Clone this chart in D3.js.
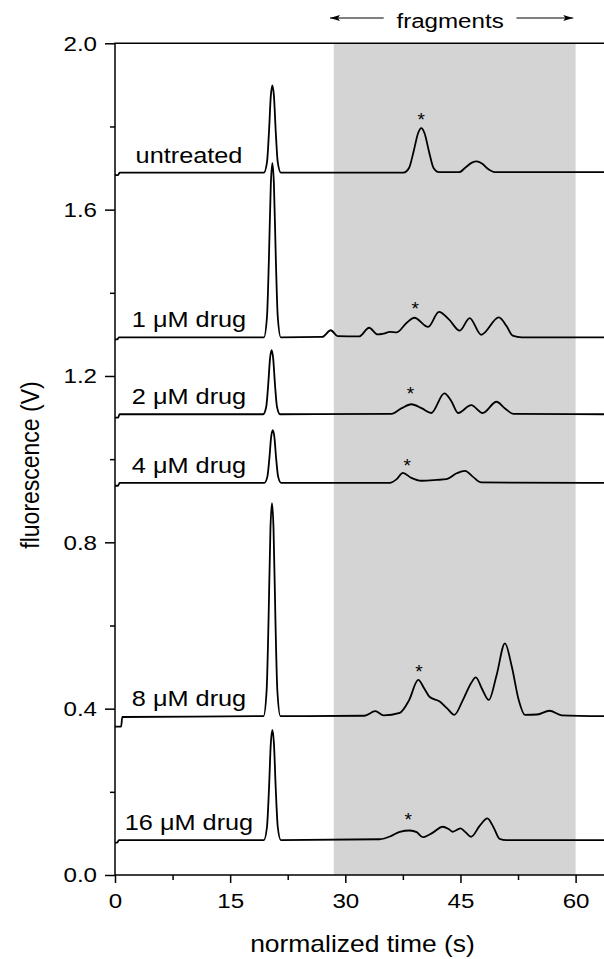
<!DOCTYPE html>
<html>
<head>
<meta charset="utf-8">
<script src="https://cdn.jsdelivr.net/npm/d3@7"></script>
<style>
  html, body { margin: 0; padding: 0; background: #fff; }
  svg { display: block; }
  text { font-family: "Liberation Sans", Arial, sans-serif; fill: #000; }
</style>
</head>
<body>
<div id="chart"></div>
<script>
/* electropherogram traces - fluorescence vs normalized time */

// axis ticks
const Y_MAJOR = [0, 0.4, 0.8, 1.2, 1.6, 2.0];
const Y_MINOR = [0.2, 0.6, 1.0, 1.4, 1.8];
const X_MAJOR = [0, 15, 30, 45, 60];
const X_MINOR = [7.5, 22.5, 37.5, 52.5];

// shaded "fragments" window (s)
const FRAGMENT_WINDOW = [28.5, 60];
const ARROW_SPANS = [[35.0, 28.0], [52.3, 59.7]];

const LABELS = ["untreated", "1 \u03BCM drug", "2 \u03BCM drug", "4 \u03BCM drug", "8 \u03BCM drug", "16 \u03BCM drug"];

// [time, volts]
const untreated = [
  [0, 1.683], [0.4, 1.683], [0.6, 1.689], [19.4, 1.689], [19.8, 1.714], [20.05, 1.784], [20.3, 1.874],
  [20.5, 1.899], [20.7, 1.874], [20.95, 1.784], [21.2, 1.714], [21.6, 1.689],
  [37.6, 1.689], [38.3, 1.700], [38.9, 1.740], [39.5, 1.785], [39.9, 1.796], [40.3, 1.785], [40.9, 1.740],
  [41.5, 1.700], [42.2, 1.690], [44.8, 1.690], [45.7, 1.702], [46.5, 1.713], [47.1, 1.716], [47.8, 1.711],
  [48.6, 1.698], [49.6, 1.690], [63.7, 1.690]
];
const drug1 = [
  [0, 1.288], [0.3, 1.288], [0.5, 1.293], [19.4, 1.293], [19.8, 1.343], [20.05, 1.482], [20.3, 1.662],
  [20.5, 1.712], [20.7, 1.662], [20.95, 1.482], [21.2, 1.343], [21.6, 1.293],
  [27.0, 1.294], [28.1, 1.310], [29.0, 1.296], [31.8, 1.295], [33.1, 1.316], [34.2, 1.300], [35.0, 1.302],
  [35.8, 1.306], [36.7, 1.305], [38.0, 1.328], [39.0, 1.340], [40.8, 1.318], [42.2, 1.354], [43.5, 1.336],
  [44.9, 1.309], [46.2, 1.339], [47.7, 1.299], [50.0, 1.341], [51.0, 1.320], [51.8, 1.297], [53.0, 1.293],
  [63.7, 1.293]
];
const drug2 = [
  [0, 1.100], [0.4, 1.100], [0.6, 1.108], [19.3, 1.108], [19.7, 1.126], [19.95, 1.177], [20.2, 1.243],
  [20.4, 1.262], [20.6, 1.243], [20.85, 1.177], [21.1, 1.126], [21.5, 1.108],
  [36.0, 1.109], [37.3, 1.122], [38.6, 1.132], [40.0, 1.122], [41.2, 1.111], [42.9, 1.158], [43.8, 1.140],
  [44.7, 1.111], [46.4, 1.130], [47.9, 1.111], [49.7, 1.138], [50.8, 1.122], [51.9, 1.109], [63.7, 1.108]
];
const drug4 = [
  [0, 0.936], [0.4, 0.936], [0.6, 0.943], [19.45, 0.943], [19.85, 0.958], [20.1, 1.000], [20.35, 1.055],
  [20.55, 1.070], [20.75, 1.055], [21.0, 1.000], [21.25, 0.958], [21.65, 0.943],
  [35.8, 0.943], [36.7, 0.952], [37.5, 0.967], [38.6, 0.955], [39.9, 0.948], [41.9, 0.950], [43.2, 0.952],
  [44.5, 0.966], [45.6, 0.972], [46.6, 0.958], [47.7, 0.944], [63.7, 0.943]
];
const drug8 = [
  [0, 0.357], [0.8, 0.357], [0.95, 0.380], [19.35, 0.382], [19.75, 0.443], [20.0, 0.612], [20.25, 0.833],
  [20.45, 0.894], [20.65, 0.833], [20.9, 0.612], [21.15, 0.443], [21.55, 0.382],
  [32.5, 0.383], [33.9, 0.394], [35.0, 0.384], [37.1, 0.390], [38.3, 0.420], [39.5, 0.469], [40.3, 0.448],
  [41.0, 0.428], [42.3, 0.417], [43.3, 0.400], [44.2, 0.385], [45.3, 0.420], [46.4, 0.462], [47.0, 0.475],
  [47.8, 0.448], [48.7, 0.421], [49.7, 0.480], [50.8, 0.557], [51.7, 0.500], [52.6, 0.420], [53.4, 0.385],
  [55.0, 0.386], [56.6, 0.395], [58.2, 0.384], [63.7, 0.382]
];
const drug16 = [
  [0, 0.078], [0.3, 0.078], [0.5, 0.084], [19.4, 0.084], [19.8, 0.116], [20.05, 0.203], [20.3, 0.317],
  [20.5, 0.349], [20.7, 0.317], [20.95, 0.203], [21.2, 0.116], [21.6, 0.084],
  [34.5, 0.086], [36.0, 0.094], [37.1, 0.104], [38.4, 0.107], [39.3, 0.103], [40.1, 0.091], [41.4, 0.102],
  [42.7, 0.116], [43.5, 0.110], [44.0, 0.104], [45.0, 0.112], [45.7, 0.102], [46.4, 0.092], [47.5, 0.118],
  [48.5, 0.136], [49.3, 0.115], [50.1, 0.087], [51.0, 0.084], [63.7, 0.084]
];
const TRACES = [untreated, drug1, drug2, drug4, drug8, drug16];

// asterisk marks on the reference fragment
const STARS = [[39.9, 1.827], [39.1, 1.372], [38.5, 1.168], [38.05, 0.996], [39.6, 0.501], [38.2, 0.144]];

const W = 604, H = 959;
const SX = 1.15; // picture's text is stretched horizontally

const x = d3.scaleLinear().domain([0, 63.7]).range([115, 604]);
const y = d3.scaleLinear().domain([0, 2]).range([875, 43.3]);

const svg = d3.select("#chart").append("svg").attr("width", W).attr("height", H);

// shaded window
svg.append("rect")
  .attr("x", x(FRAGMENT_WINDOW[0]))
  .attr("y", y(2))
  .attr("width", x(FRAGMENT_WINDOW[1]) - x(FRAGMENT_WINDOW[0]))
  .attr("height", y(0) - y(2))
  .attr("fill", "#d4d4d4");

// traces
const line = d3.line().x(d => x(d[0])).y(d => y(d[1])).curve(d3.curveMonotoneX);
svg.selectAll(".trace").data(TRACES).join("path")
  .attr("class", "trace")
  .attr("d", line)
  .attr("fill", "none")
  .attr("stroke", "#000")
  .attr("stroke-width", 1.8)
  .attr("stroke-linejoin", "round");

// trace labels, centred left of the main peak
svg.selectAll(".lab").data(LABELS).join("text")
  .attr("class", "lab")
  .attr("text-anchor", "middle")
  .attr("font-size", 22)
  .attr("transform", (d, i) => `translate(189,${y(TRACES[i][3][1]) - 10}) scale(${SX},1)`)
  .text(d => d);

svg.selectAll(".star").data(STARS).join("text")
  .attr("class", "star")
  .attr("text-anchor", "middle")
  .attr("font-size", 19)
  .attr("x", d => x(d[0]))
  .attr("y", d => y(d[1]) + 11)
  .text("*");

// axes
function styleAxis(g) {
  g.select(".domain").remove();
  g.selectAll("line").attr("stroke", "#000").attr("stroke-width", 1.5);
  g.selectAll("text")
    .attr("font-size", 21)
    .attr("font-family", "Liberation Sans, Arial, sans-serif");
}

const yAxis = svg.append("g").attr("transform", `translate(${x(0)},0)`)
  .call(d3.axisLeft(y).tickValues(Y_MAJOR).tickFormat(d3.format(".1f")).tickSize(10).tickPadding(8))
  .call(styleAxis);
yAxis.selectAll("text").attr("transform", `scale(${SX},1)`).attr("x", -18 / SX);
svg.append("g").attr("transform", `translate(${x(0)},0)`)
  .call(d3.axisLeft(y).tickValues(Y_MINOR).tickFormat("").tickSize(5))
  .call(styleAxis);

const xAxis = svg.append("g").attr("transform", `translate(0,${y(0)})`)
  .call(d3.axisBottom(x).tickValues(X_MAJOR).tickFormat(d3.format("d")).tickSize(8).tickPadding(10))
  .call(styleAxis);
xAxis.selectAll("text").attr("transform", `scale(${SX},1)`).attr("x", 0);
svg.append("g").attr("transform", `translate(0,${y(0)})`)
  .call(d3.axisBottom(x).tickValues(X_MINOR).tickFormat("").tickSize(5))
  .call(styleAxis);

// frame lines: left, bottom, top
svg.append("path")
  .attr("d", `M${x(0)},${y(0) + 0.75}V${y(2)}H${W}M${x(0)},${y(0)}H${W}`)
  .attr("fill", "none")
  .attr("stroke", "#000")
  .attr("stroke-width", 1.5);

// axis titles
svg.append("text")
  .attr("text-anchor", "middle")
  .attr("font-size", 23)
  .attr("transform", `translate(${(x(0) + W) / 2 + 3},952) scale(${SX},1)`)
  .text("normalized time (s)");

svg.append("text")
  .attr("text-anchor", "middle")
  .attr("font-size", 23)
  .attr("transform", `translate(39,465) rotate(-90) scale(1,${SX})`)
  .text("fluorescence (V)");

// "fragments" header with arrows
const defs = svg.append("defs");
defs.append("marker")
  .attr("id", "arrow")
  .attr("viewBox", "0 0 10 6")
  .attr("refX", 10).attr("refY", 3)
  .attr("markerWidth", 10).attr("markerHeight", 6)
  .attr("markerUnits", "userSpaceOnUse")
  .attr("orient", "auto")
  .append("path").attr("d", "M0,0L10,3L0,6L2,3Z").attr("fill", "#000");

svg.selectAll(".arr").data(ARROW_SPANS).join("line")
  .attr("class", "arr")
  .attr("x1", d => x(d[0])).attr("x2", d => x(d[1]))
  .attr("y1", 18).attr("y2", 18)
  .attr("stroke", "#000").attr("stroke-width", 1.2)
  .attr("marker-end", "url(#arrow)");

svg.append("text")
  .attr("text-anchor", "middle")
  .attr("font-size", 21)
  .attr("transform", `translate(${(x(ARROW_SPANS[0][0]) + x(ARROW_SPANS[1][0])) / 2},28) scale(${SX},1)`)
  .text("fragments");
</script>
</body>
</html>
